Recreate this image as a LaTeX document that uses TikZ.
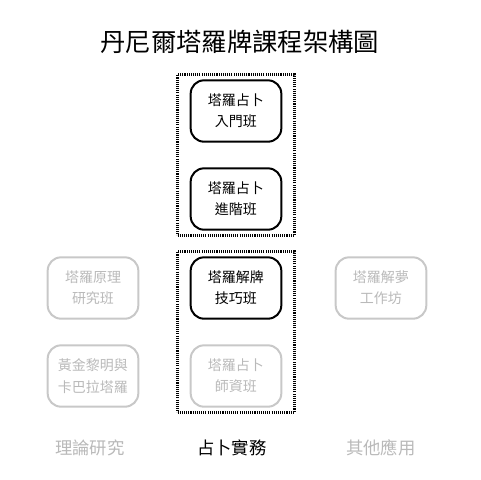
\documentclass[tikz,border=0pt]{standalone}
\usepackage{fontspec}
\setmainfont{Noto Sans CJK TC}
\usetikzlibrary{fit}
\definecolor{lightgrey}{RGB}{200,200,200}
\definecolor{greytext}{RGB}{185,185,185}
\begin{document}
\begin{tikzpicture}[x=0.75pt,y=-0.75pt,
    course/.style={draw,line width=1.5pt,rounded corners=10pt,minimum width=68pt,minimum height=46pt,align=center,font=\fontsize{10.5}{16}\selectfont},
    faded/.style={course,draw=lightgrey,text=greytext},
    frame/.style={draw,line width=2.2pt,dash pattern=on 0.8pt off 0.8pt,inner xsep=9pt,inner ysep=3.5pt}]
        \useasboundingbox (0,0) rectangle (480,480);
        \node[font=\fontsize{19}{22}\selectfont] (title) at (240,42) {丹尼爾塔羅牌課程架構圖};
        \node[course] (rudiment) at (236,111) {塔羅占卜\\入門班};
        \node[course] (advanced) at (236,199) {塔羅占卜\\進階班};
        \node[course] (reading) at (236,288) {塔羅解牌\\技巧班};
        \node[faded] (teacher) at (236,376) {塔羅占卜\\師資班};
        \node[faded] (principle) at (93,288) {塔羅原理\\研究班};
        \node[faded] (golden) at (93,376) {黃金黎明與\\卡巴拉塔羅};
        \node[faded] (dream) at (381,288) {塔羅解夢\\工作坊};
        \node[frame,fit=(rudiment)(advanced)] (basicframe) {};
        \node[frame,fit=(reading)(teacher)] (skillframe) {};
        \node[font=\fontsize{13}{15}\selectfont,text=greytext] (theory) at (90,448) {理論研究};
        \node[font=\fontsize{13}{15}\selectfont] (practice) at (232,448) {占卜實務};
        \node[font=\fontsize{13}{15}\selectfont,text=greytext] (other) at (381,448) {其他應用};
    \end{tikzpicture}
\end{document}
